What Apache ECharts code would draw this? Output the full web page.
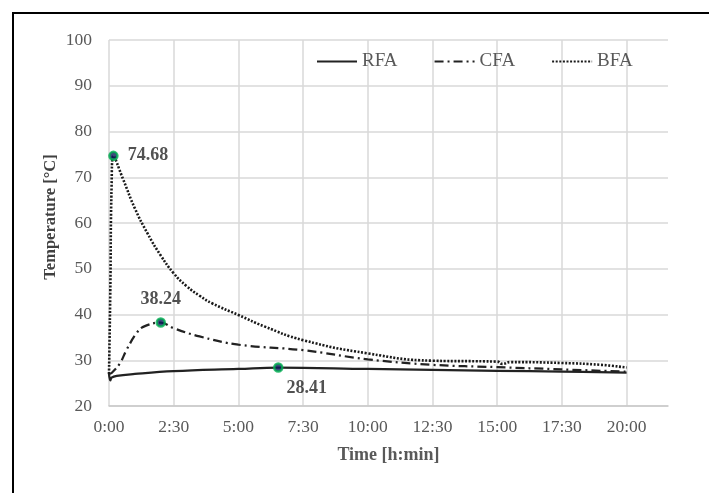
<!DOCTYPE html>
<html>
<head>
<meta charset="utf-8">
<script src="https://cdn.jsdelivr.net/npm/echarts@6/dist/echarts.min.js"></script>
<style>
  html, body { margin: 0; padding: 0; background: #fff; }
  #chart { width: 709px; height: 493px; }
</style>
</head>
<body>
<div id="chart"></div>
<script>
// time in hours, temperature in °C
const rfaTime = [0, 0.05, 0.1, 0.3, 1.0, 2.5, 5.0, 6.54, 10.0, 12.5, 15.0, 17.5, 20.0]
const rfaTemp = [27.0, 25.6, 26.2, 26.6, 27.0, 27.6, 28.1, 28.41, 28.1, 27.9, 27.7, 27.5, 27.3]

const cfaTime = [0, 0.1, 0.42, 0.68, 1.06, 1.32, 2.0, 2.5, 3.5, 5.0, 7.5, 10.0, 12.5, 15.0, 17.5, 20.0]
const cfaTemp = [27.0, 27.2, 29.3, 32.3, 35.9, 37.3, 38.24, 37.0, 35.2, 33.4, 32.2, 30.2, 29.0, 28.5, 28.0, 27.5]

const bfaTime = [0, 0.05, 0.1, 0.17, 0.55, 1.0, 1.5, 2.0, 2.5, 3.0, 3.5, 4.0, 5.0, 6.0, 7.5, 10.0, 12.5, 15.0, 15.2, 15.5, 17.5, 19.0, 20.0]
const bfaTemp = [27.0, 45.0, 68.0, 74.68, 69.5, 63.2, 57.6, 52.9, 49.0, 46.2, 44.1, 42.4, 39.9, 37.4, 34.4, 31.5, 29.9, 29.7, 29.2, 29.6, 29.4, 29.0, 28.4]

const peakTime = [0.17, 2.0, 6.54]
const peakTemp = [74.68, 38.24, 28.41]

const seriesNames = ['RFA', 'CFA', 'BFA']

const serif = '"Liberation Serif", "Times New Roman", serif'
const pair = (xs, ys) => xs.map((x, i) => [x, ys[i]])
const fmtTime = v => {
    const h = Math.floor(v + 1e-6)
    const m = Math.round((v - h) * 60)
    return h + ':' + (m < 10 ? '0' + m : m)
}

const labelSpots = [
    { position: 'right', distance: 9, offset: [0, 0] },
    { position: 'top', distance: 9, offset: [0, 0] },
    { position: 'right', distance: 3, offset: [0, 21] }
]

const chart = echarts.init(document.getElementById('chart'))
chart.setOption({
    backgroundColor: '#fff',
    animation: false,
    graphic: [{
        type: 'rect',
        shape: { x: 13, y: 13, width: 720, height: 520 },
        style: { fill: 'none', stroke: '#000', lineWidth: 2 },
        silent: true
    }],
    legend: {
        data: seriesNames,
        left: 316,
        top: 52,
        padding: 0,
        itemWidth: 40,
        itemHeight: 14,
        itemGap: 36,
        itemStyle: { opacity: 0 },
        textStyle: { fontFamily: serif, fontSize: 19, color: '#595959' }
    },
    grid: { left: 109, right: 41, top: 40, bottom: 87 },
    xAxis: {
        type: 'value',
        min: 0,
        max: 21.6,
        interval: 2.5,
        name: 'Time [h:min]',
        nameLocation: 'middle',
        nameGap: 40,
        nameTextStyle: { fontFamily: serif, fontSize: 18, fontWeight: 'bold', color: '#595959' },
        axisLine: { show: true, lineStyle: { color: '#c9c9c9', width: 1.5 } },
        axisTick: { show: false },
        axisLabel: {
            formatter: fmtTime,
            showMaxLabel: false,
            margin: 12,
            fontFamily: serif,
            fontSize: 17.5,
            color: '#595959'
        },
        splitLine: { show: true, showMaxLine: false, lineStyle: { color: '#d9d9d9', width: 1.5 } }
    },
    yAxis: {
        type: 'value',
        min: 20,
        max: 100,
        interval: 10,
        name: 'Temperature [°C]',
        nameLocation: 'middle',
        nameMoveOverlap: false,
        nameGap: 50,
        nameTextStyle: { fontFamily: serif, fontSize: 16.5, fontWeight: 'bold', color: '#404040', padding: [0, 0, 0, 12] },
        axisLine: { show: false },
        axisTick: { show: false },
        axisLabel: { margin: 17, fontFamily: serif, fontSize: 17.5, color: '#595959' },
        splitLine: { show: true, lineStyle: { color: '#d9d9d9', width: 1.5 } }
    },
    series: [
        {
            name: 'RFA',
            type: 'line',
            smooth: 0.4,
            showSymbol: false,
            symbol: 'none',
            data: pair(rfaTime, rfaTemp),
            lineStyle: { color: '#222', width: 2.25, type: 'solid' },
            itemStyle: { color: '#222' },
            z: 3
        },
        {
            name: 'CFA',
            type: 'line',
            smooth: 0.4,
            showSymbol: false,
            symbol: 'none',
            data: pair(cfaTime, cfaTemp),
            lineStyle: { color: '#222', width: 2.25, type: [9, 4, 2, 4] },
            itemStyle: { color: '#222' },
            z: 3
        },
        {
            name: 'BFA',
            type: 'line',
            smooth: 0.5,
            showSymbol: false,
            symbol: 'none',
            data: pair(bfaTime, bfaTemp),
            lineStyle: { color: '#1a1a1a', width: 2.6, type: [2, 1.6] },
            itemStyle: { color: '#1a1a1a' },
            z: 3
        },
        {
            name: 'peaks',
            type: 'scatter',
            symbol: 'circle',
            symbolSize: 8,
            itemStyle: { color: '#0d1d5c', borderColor: '#00b050', borderWidth: 2.5 },
            z: 5,
            data: peakTime.map((t, i) => ({
                value: [t, peakTemp[i]],
                label: {
                    show: true,
                    formatter: peakTemp[i].toFixed(2),
                    position: labelSpots[i].position,
                    distance: labelSpots[i].distance,
                    offset: labelSpots[i].offset,
                    fontFamily: serif,
                    fontSize: 18,
                    fontWeight: 'bold',
                    color: '#262626'
                }
            }))
        }
    ]
})
</script>
</body>
</html>
